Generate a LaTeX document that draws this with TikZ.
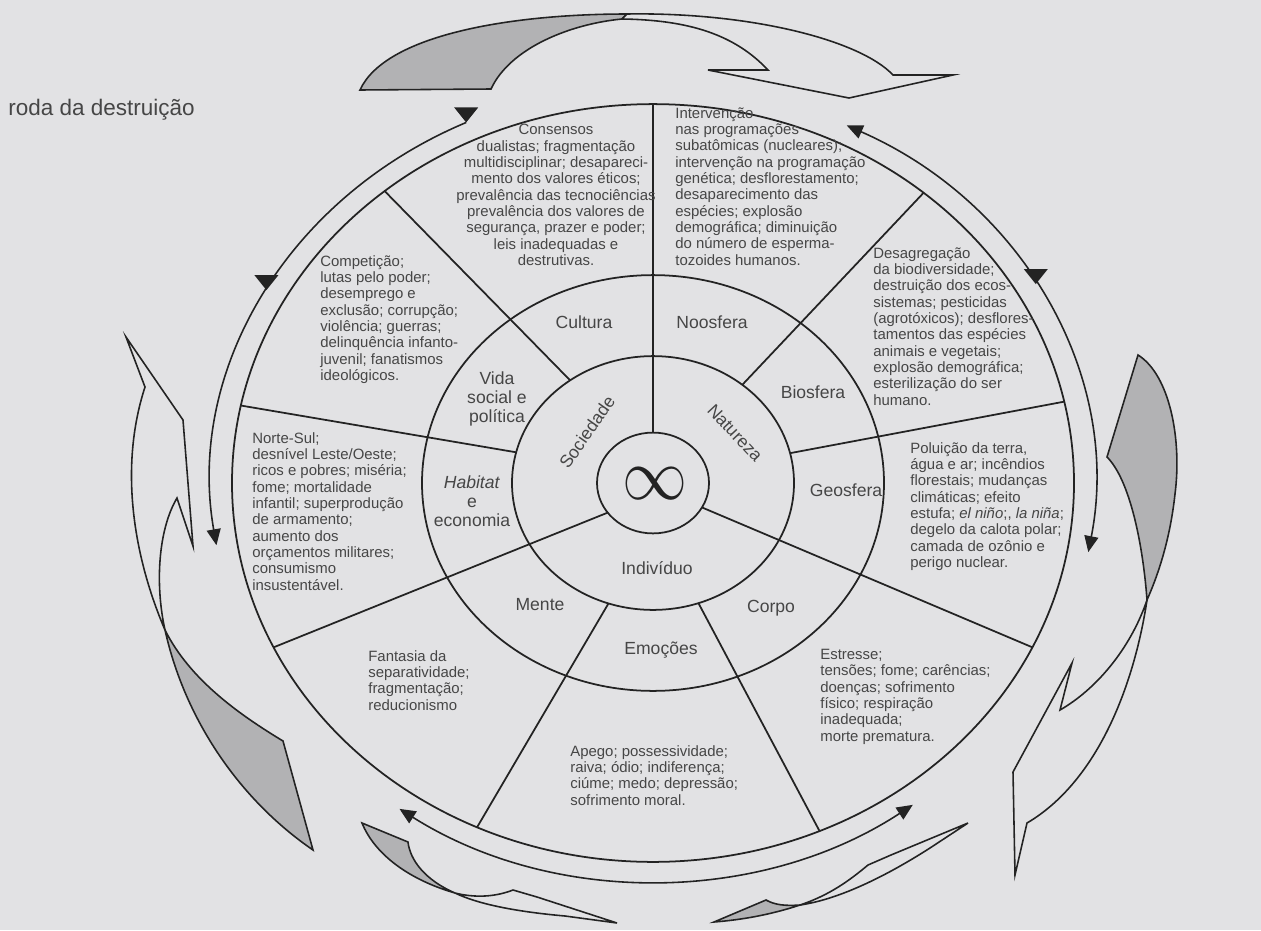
\documentclass[tikz,border=0pt]{standalone}
\usepackage{fontspec}
\setmainfont{Liberation Sans}
\usepackage{graphicx}
\usetikzlibrary{arrows.meta}

\definecolor{paper}{RGB}{226,226,228}
\definecolor{ink}{RGB}{35,35,35}
\definecolor{txt}{RGB}{70,70,70}
\definecolor{shade}{RGB}{178,178,180}

\tikzset{
  wheel/.style={draw=ink, line width=1pt},
  ringtext/.style={font=\fontsize{8.5}{9.3}\selectfont, text=txt, inner sep=0pt},
  sectorlabel/.style={font=\fontsize{10}{10.8}\selectfont, text=txt, inner sep=0pt, align=center},
  ribbon/.style={draw=ink, line width=0.9pt, line join=miter},
  flow/.style={draw=ink, line width=0.9pt, >={Triangle[length=3.2mm, width=2.8mm]}},
}

\begin{document}
\begin{tikzpicture}[x=0.02cm, y=-0.02cm]
\fill[paper] (0,0) rectangle (1261,930);
\useasboundingbox (0,0) rectangle (1261,930);

\node[anchor=west, font=\fontsize{12.8}{14}\selectfont, text=txt, inner sep=0pt] (titulo) at (8,110) {roda da destruição};

% big ribbon arrows
\filldraw[ribbon, fill=shade] (360,90) .. controls (385,35) and (510,14) .. (627,14) -- (622,19) .. controls (570,24) and (510,48) .. (491,89) -- cycle;
\filldraw[ribbon, fill=paper] (627,14) .. controls (750,12) and (860,40) .. (893,75) -- (953,75) -- (849,98) -- (708,70) -- (768,70) .. controls (735,35) and (690,20) .. (622,19) -- cycle;

\filldraw[ribbon, fill=shade] (165,630) .. controls (185,720) and (240,800) .. (313,850) -- (283,741) .. controls (240,715) and (190,680) .. (165,630) -- cycle;
\filldraw[ribbon, fill=paper] (165,630) .. controls (135,560) and (118,470) .. (145,387) -- (126,337) -- (183,420) -- (193,546) -- (177,498) .. controls (158,530) and (155,585) .. (165,630) -- cycle;

\filldraw[ribbon, fill=shade] (1138,355) .. controls (1170,375) and (1182,440) .. (1175,494) .. controls (1170,540) and (1158,575) .. (1147,600) .. controls (1143,545) and (1130,480) .. (1107,457) -- cycle;
\filldraw[ribbon, fill=paper] (1147,600) .. controls (1135,680) and (1100,780) .. (1027,823) -- (1015,875) -- (1013,772) -- (1072,663) -- (1060,710) .. controls (1095,690) and (1130,650) .. (1147,600) -- cycle;

\filldraw[ribbon, fill=shade] (362,823) -- (408,842) .. controls (410,860) and (425,880) .. (455,893) .. controls (410,880) and (375,855) .. (362,823) -- cycle;
\filldraw[ribbon, fill=paper] (455,893) .. controls (475,898) and (495,897) .. (513,890) -- (537,897) -- (617,923) -- (565,916) .. controls (520,912) and (480,905) .. (455,893) -- cycle;

\filldraw[ribbon, fill=shade] (714,922) -- (766,900) .. controls (775,905) and (785,906) .. (800,905) .. controls (770,915) and (740,920) .. (714,922) -- cycle;
\filldraw[ribbon, fill=paper] (800,905) .. controls (830,895) and (850,880) .. (868,865) -- (891,855) -- (968,823) -- (930,848) .. controls (880,880) and (835,900) .. (800,905) -- cycle;

% the wheel
\begin{scope}[shift={(653,483)}, yscale=-0.9]
  \def\rz{56} \def\ri{141} \def\rii{231} \def\riii{421} \def\ra{442}
  \draw[wheel] (0,0) circle[radius=\rz];
  \draw[wheel] (0,0) circle[radius=\ri];
  \draw[wheel] (0,0) circle[radius=\rii];
  \draw[wheel] (0,0) circle[radius=\riii];
  % spokes
  \draw[wheel] (90:\rz) -- (90:\riii);
  \draw[wheel] (216:\rz) -- (205.7:\riii);
  \draw[wheel] (331:\rz) -- (334.3:\riii);
  \draw[wheel] (126:\ri) -- (129.6:\riii);
  \draw[wheel] (166:\ri) -- (168.2:\riii);
  \draw[wheel] (251.6:\ri) -- (245.3:\riii);
  \draw[wheel] (288.8:\ri) -- (293.3:\riii);
  \draw[wheel] (13.6:\ri) -- (12.4:\riii);
  \draw[wheel] (50.7:\ri) -- (50:\riii);
  % ring of arrows
  \draw[flow, ->] (115:\ra) arc[start angle=115, end angle=189, radius=\ra];
  \draw[flow, <->] (64:\ra) arc[start angle=64, end angle=-10, radius=\ra];
  \draw[flow, <->] (235:\ra) arc[start angle=235, end angle=306, radius=\ra];
  \coordinate (mk1) at (115:\ra);
  \coordinate (mk2) at (151:\ra);
  \coordinate (mk3) at (30:\ra);
\end{scope}
\foreach \m in {mk1,mk2,mk3}
  \fill[ink] (\m) -- ++(-12,-15) -- ++(24,0) -- cycle;

\node[text=ink, inner sep=0pt] (infinito) at (655,484) {\scalebox{3.7}[4.2]{$\infty$}};

% sector labels
\node[sectorlabel, rotate=55] (sociedade) at (587,432) {Sociedade};
\node[sectorlabel, rotate=-47] (natureza) at (735,433) {Natureza};
\node[sectorlabel] (individuo) at (657,568) {Indivíduo};
\node[sectorlabel] (cultura) at (584,322) {Cultura};
\node[sectorlabel] (noosfera) at (712,322) {Noosfera};
\node[sectorlabel] (biosfera) at (813,392) {Biosfera};
\node[sectorlabel] (geosfera) at (846,490) {Geosfera};
\node[sectorlabel] (corpo) at (771,608) {Corpo};
\node[sectorlabel] (emocoes) at (661,650) {Emoções};
\node[sectorlabel] (mente) at (540,605) {Mente};
\node[sectorlabel] (habitat) at (472,501) {\textit{Habitat}\\e\\economia};
\node[sectorlabel] (vida) at (497,399) {Vida\\social e\\política};

% outer ring texts
\node[ringtext, anchor=north, align=center] (consensos) at (556,124) {Consensos\\dualistas; fragmentação\\multidisciplinar; desapareci-\\mento dos valores éticos;\\prevalência das tecnociências\\prevalência dos valores de\\segurança, prazer e poder;\\leis inadequadas e\\destrutivas.};
\node[ringtext, anchor=north west, align=left] (intervencao) at (675,107) {Intervenção\\nas programações\\subatômicas (nucleares);\\intervenção na programação\\genética; desflorestamento;\\desaparecimento das\\espécies; explosão\\demográfica; diminuição\\do número de esperma-\\tozoides humanos.};
\node[ringtext, anchor=north west, align=left] (competicao) at (320,255) {Competição;\\lutas pelo poder;\\desemprego e\\exclusão; corrupção;\\violência; guerras;\\delinquência infanto-\\juvenil; fanatismos\\ideológicos.};
\node[ringtext, anchor=north west, align=left] (desagregacao) at (873,247) {Desagregação\\da biodiversidade;\\destruição dos ecos-\\sistemas; pesticidas\\(agrotóxicos); desflores-\\tamentos das espécies\\animais e vegetais;\\explosão demográfica;\\esterilização do ser\\humano.};
\node[ringtext, anchor=north west, align=left] (nortesul) at (252,432) {Norte-Sul;\\desnível Leste/Oeste;\\ricos e pobres; miséria;\\fome; mortalidade\\infantil; superprodução\\de armamento;\\aumento dos\\orçamentos militares;\\consumismo\\insustentável.};
\node[ringtext, anchor=north west, align=left] (poluicao) at (910,442) {Poluição da terra,\\água e ar; incêndios\\florestais; mudanças\\climáticas; efeito\\estufa; \textit{el niño};, \textit{la niña};\\degelo da calota polar;\\camada de ozônio e\\perigo nuclear.};
\node[ringtext, anchor=north west, align=left] (fantasia) at (368,650) {Fantasia da\\separatividade;\\fragmentação;\\reducionismo};
\node[ringtext, anchor=north west, align=left] (apego) at (570,745) {Apego; possessividade;\\raiva; ódio; indiferença;\\ciúme; medo; depressão;\\sofrimento moral.};
\node[ringtext, anchor=north west, align=left] (estresse) at (820,649) {Estresse;\\tensões; fome; carências;\\doenças; sofrimento\\físico; respiração\\inadequada;\\morte prematura.};
\end{tikzpicture}
\end{document}
